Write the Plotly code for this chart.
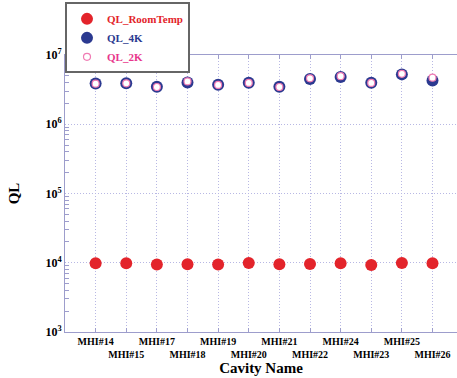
import plotly.graph_objects as go

cavities = ["MHI#14", "MHI#15", "MHI#17", "MHI#18", "MHI#19", "MHI#20",
            "MHI#21", "MHI#22", "MHI#24", "MHI#23", "MHI#25", "MHI#26"]
ql_room = [9.8e3, 9.8e3, 9.4e3, 9.5e3, 9.4e3, 9.9e3, 9.5e3, 9.6e3, 9.8e3, 9.3e3, 9.9e3, 9.8e3]
ql_4k = [3.88e6, 3.9e6, 3.47e6, 4.0e6, 3.71e6, 3.96e6, 3.47e6, 4.5e6, 4.8e6, 3.96e6, 5.25e6, 4.29e6]
ql_2k = [3.85e6, 3.9e6, 3.45e6, 4.15e6, 3.7e6, 3.95e6, 3.45e6, 4.6e6, 4.95e6, 3.95e6, 5.35e6, 4.7e6]
ytick_vals = [1e3, 1e4, 1e5, 1e6, 1e7]
ytick_text = ["<b>10<sup>3</sup></b>", "<b>10<sup>4</sup></b>", "<b>10<sup>5</sup></b>",
              "<b>10<sup>6</sup></b>", "<b>10<sup>7</sup></b>"]
minor_vals = [k * 10 ** e for e in range(3, 7) for k in range(2, 10)]

xpos = list(range(1, len(cavities) + 1))
xtext = ["<b>%s</b>" % c if i % 2 == 0 else "<br><b>%s</b>" % c for i, c in enumerate(cavities)]

RED = "#e3242b"
BLUE = "#2b3990"
PINK = "#f07cb4"
GRID = "#b8b8e4"
AXIS = "#9d9dcc"
FONT = "Liberation Serif"

fig = go.Figure()
fig.add_trace(go.Scatter(x=xpos, y=ql_room, mode="markers",
                         name="<b><span style='color:%s'>QL_RoomTemp</span></b>" % RED,
                         marker=dict(color=RED, size=12, line=dict(width=0))))
fig.add_trace(go.Scatter(x=xpos, y=ql_4k, mode="markers",
                         name="<b><span style='color:%s'>QL_4K</span></b>" % BLUE,
                         marker=dict(color=BLUE, size=12, line=dict(width=0))))
fig.add_trace(go.Scatter(x=xpos, y=ql_2k, mode="markers",
                         name="<b><span style='color:#e8368c'>QL_2K</span></b>",
                         marker=dict(color="white", size=7, line=dict(color=PINK, width=1.2))))

fig.update_layout(
    width=457, height=378,
    margin=dict(l=65, r=0, t=55, b=46, autoexpand=False),
    paper_bgcolor="white", plot_bgcolor="white",
    font=dict(family=FONT, size=11, color="black"),
    showlegend=True,
    legend=dict(x=0, y=1.19, xanchor="left", yanchor="top",
                bgcolor="white", bordercolor="#666666", borderwidth=2,
                font=dict(family=FONT, size=11), itemwidth=30,
                tracegroupgap=0),
    xaxis=dict(range=[0, 12.8], tickvals=xpos, ticktext=xtext, tickangle=0,
               showline=True, linecolor=AXIS, linewidth=1, mirror="ticks",
               ticks="inside", ticklen=4, tickcolor=AXIS,
               showgrid=True, gridcolor=GRID, griddash="1px,2px", gridwidth=1,
               zeroline=False, automargin=False,
               tickfont=dict(family=FONT, size=10, color="black"),
               title=dict(text="<b>Cavity Name</b>", font=dict(family=FONT, size=15), standoff=2)),
    yaxis=dict(type="log", range=[3, 7], tickvals=ytick_vals, ticktext=ytick_text,
               showline=True, linecolor=AXIS, linewidth=1,
               ticks="", showgrid=True, gridcolor=GRID, griddash="1px,2px", gridwidth=1,
               zeroline=False, automargin=False,
               minor=dict(tickvals=minor_vals, ticks="inside", ticklen=4,
                          tickcolor=AXIS, showgrid=False),
               tickfont=dict(family=FONT, size=12, color="black"),
               title=dict(text="<b>QL</b>", font=dict(family=FONT, size=15), standoff=22)),
)

fig.write_html("out.html")
